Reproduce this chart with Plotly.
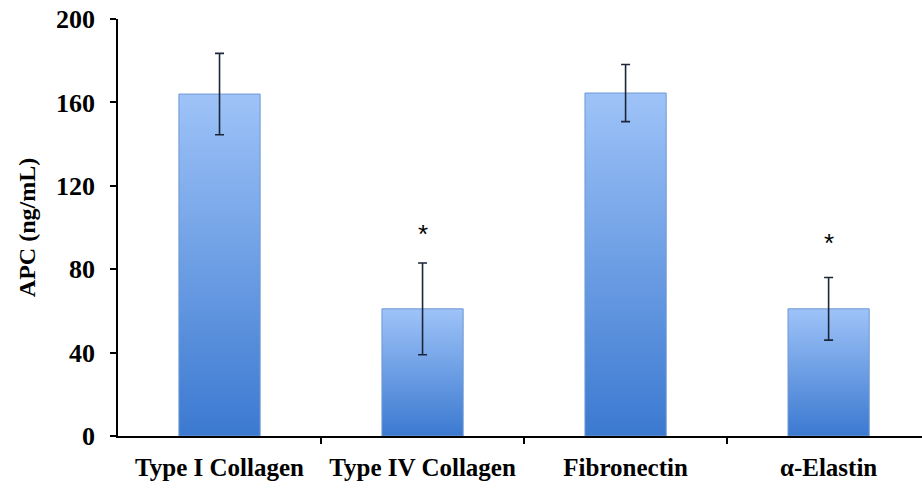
import plotly.graph_objects as go

# Substrate coating and measured APC concentration (mean ± error)
categories = ["Type I Collagen", "Type IV Collagen", "Fibronectin", "α-Elastin"]
apc_mean = [164, 61, 164.5, 61]
apc_err = [19.5, 22, 13.7, 15]
significance = ["", "*", "", "*"]
star_height = [None, 97, None, 92.5]

y_ticks = [0, 40, 80, 120, 160, 200]

BAR_W = 0.4
LIGHT = "#9EC3F8"
DARK = "#3B79D0"
EDGE = "#6F98D3"
SERIF = "Liberation Serif"

xs = list(range(len(categories)))

fig = go.Figure()

# Gradient-filled bar bodies (vertical light-to-dark fill) with thin outline
for x, v in zip(xs, apc_mean):
    fig.add_trace(go.Scatter(
        x=[x - BAR_W / 2, x + BAR_W / 2, x + BAR_W / 2, x - BAR_W / 2, x - BAR_W / 2],
        y=[0, 0, v, v, 0],
        mode="lines",
        line=dict(width=1, color=EDGE),
        fill="toself",
        fillgradient=dict(type="vertical", start=0, stop=v,
                          colorscale=[[0, DARK], [1, LIGHT]]),
        hoverinfo="skip",
        showlegend=False,
    ))

# Error bars drawn above the bar bodies
fig.add_trace(go.Scatter(
    x=xs,
    y=apc_mean,
    mode="markers",
    marker=dict(size=1, opacity=0),
    error_y=dict(type="data", array=apc_err, visible=True,
                 color="#1B2638", thickness=1.6, width=4.5),
    showlegend=False,
))

# Significance markers
for x, s, h in zip(xs, significance, star_height):
    if s:
        fig.add_annotation(x=x, y=h, text=s, showarrow=False,
                           font=dict(family="Liberation Sans", size=26, color="black"),
                           yanchor="middle")

fig.update_layout(
    width=922,
    height=493,
    margin=dict(l=118, r=0, t=19, b=57),
    plot_bgcolor="white",
    paper_bgcolor="white",
    xaxis=dict(
        range=[-0.5, 3.46],
        tickvals=xs,
        ticktext=categories,
        ticks="",
        showline=True,
        linecolor="black",
        linewidth=1.5,
        showgrid=False,
        zeroline=False,
        tickfont=dict(family=SERIF, size=25, color="black", weight="bold"),
        ticklabelstandoff=8,
        minor=dict(tickvals=[x + 0.5 for x in xs[:-1]], ticks="outside",
                   ticklen=6, tickcolor="black", tickwidth=1.5),
    ),
    yaxis=dict(
        range=[0, 200],
        tickvals=y_ticks,
        ticks="outside",
        ticklen=6,
        tickwidth=1.5,
        tickcolor="black",
        showline=True,
        linecolor="black",
        linewidth=1.5,
        showgrid=False,
        zeroline=False,
        tickfont=dict(family=SERIF, size=26, color="black", weight="bold"),
        ticklabelstandoff=10,
        title=dict(text="APC (ng/mL)", standoff=14,
                   font=dict(family=SERIF, size=24, color="black", weight="bold")),
    ),
)

fig.write_html("out.html")
